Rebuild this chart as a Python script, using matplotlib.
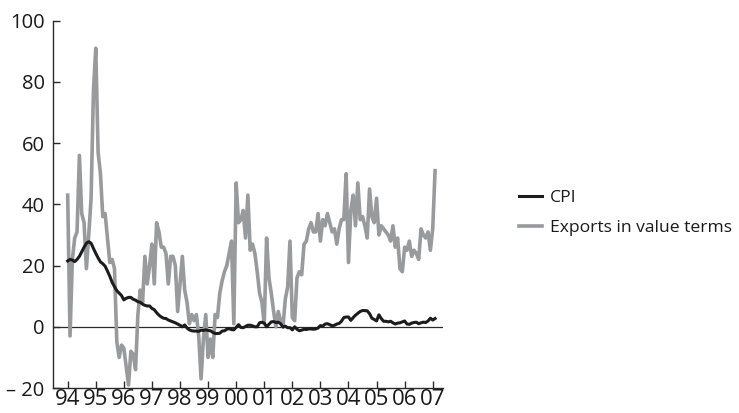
import numpy as np
import matplotlib
matplotlib.use("Agg")
import matplotlib.pyplot as plt
from matplotlib.ticker import FixedLocator, FixedFormatter

plt.rcParams['font.family'] = ['Open Sans', 'DejaVu Sans']

# Monthly year-on-year growth, %, from January 1994 to February 2007
cpi = [
    # 1994
    21.5, 22.0, 21.8, 21.3, 22.0, 23.0, 24.5, 26.0, 27.3, 27.8, 27.3, 25.6,
    # 1995
    24.0, 22.5, 21.2, 20.6, 19.8, 18.2, 16.5, 14.5, 13.1, 11.8, 11.0, 10.2,
    # 1996
    8.8, 9.3, 9.6, 9.6, 9.0, 8.7, 8.2, 8.0, 7.4, 7.0, 6.8, 6.8,
    # 1997
    6.0, 5.6, 4.6, 3.8, 3.2, 2.8, 2.7, 2.2, 1.9, 1.6, 1.3, 0.9,
    # 1998
    0.5, 0.0, 0.6, -0.4, -1.0, -1.3, -1.4, -1.4, -1.5, -1.1, -1.2, -1.0,
    # 1999
    -1.2, -1.3, -1.8, -2.2, -2.2, -2.1, -1.4, -1.3, -0.8, -0.6, -0.9, -1.0,
    # 2000
    -0.2, 0.7, -0.2, -0.3, 0.1, 0.5, 0.5, 0.3, 0.0, 0.0, 1.3, 1.5,
    # 2001
    1.2, 0.0, 0.8, 1.6, 1.7, 1.4, 1.5, 1.0, -0.1, 0.2, -0.3, -0.3,
    # 2002
    -1.0, 0.0, -0.8, -1.3, -1.1, -0.8, -0.9, -0.7, -0.7, -0.8, -0.7, -0.4,
    # 2003
    0.4, 0.2, 0.9, 1.0, 0.7, 0.3, 0.5, 0.9, 1.1, 1.8, 3.0, 3.2,
    # 2004
    3.2, 2.1, 3.0, 3.8, 4.4, 5.0, 5.3, 5.3, 5.2, 4.3, 2.8, 2.4,
    # 2005
    1.9, 3.9, 2.7, 1.8, 1.8, 1.6, 1.8, 1.3, 0.9, 1.2, 1.3, 1.6,
    # 2006
    1.9, 0.9, 0.8, 1.2, 1.4, 1.5, 1.0, 1.3, 1.5, 1.4, 1.9, 2.8,
    # 2007
    2.2, 2.7,
]

exports = [
    # 1994
    43, -3, 22, 29, 31, 56, 37, 34, 19, 30, 42, 77,
    # 1995
    91, 57, 50, 36, 37, 29, 21, 22, 19, -5, -10, -6,
    # 1996
    -7, -13, -19, -8, -9, -14, 4, 12, 8, 23, 14, 20,
    # 1997
    27, 14, 34, 31, 26, 26, 24, 14, 23, 23, 20, 5,
    # 1998
    14, 23, 12, 8, 1, 4, 2, 4, -3, -17, -4, 4,
    # 1999
    -10, -4, -10, 4, 3, 11, 15, 18, 20, 24, 28, 1,
    # 2000
    47, 34, 35, 38, 29, 43, 25, 27, 24, 18, 11, 8,
    # 2001
    1, 29, 16, 11, 5, 0, 5, 2, 0, 9, 13, 28,
    # 2002
    3, 2, 16, 18, 17, 27, 28, 32, 34, 31, 31, 37,
    # 2003
    28, 35, 33, 37, 34, 31, 32, 27, 32, 35, 35, 50,
    # 2004
    21, 38, 43, 33, 47, 35, 36, 33, 29, 45, 36, 34,
    # 2005
    42, 30, 33, 32, 31, 30, 28, 33, 26, 29, 19, 18,
    # 2006
    26, 25, 28, 23, 25, 24, 22, 32, 30, 29, 31, 25,
    # 2007
    32, 51,
]

year_labels = ['94', '95', '96', '97', '98', '99', '00', '01', '02', '03',
               '04', '05', '06', '07']
y_ticks = [-20, 0, 20, 40, 60, 80, 100]
y_labels = ['– 20', '0', '20', '40', '60', '80', '100']

months = 1994 + np.arange(len(cpi)) / 12.0

fig = plt.figure(figsize=(7.39, 4.13), dpi=100)
ax = fig.add_axes([53 / 739, 25 / 413, 390 / 739, 367.3 / 413])

ax.plot(months, exports, color='#999a9c', lw=2.6,
        label='Exports in value terms', zorder=2)
ax.plot(months, cpi, color='#1c1c1c', lw=2.2, label='CPI', zorder=3)
ax.axhline(0, color='#2a2a2a', lw=0.9, zorder=1)

ax.set_xlim(1993.477, 2007.366)
ax.set_ylim(-20, 100)

ax.xaxis.set_major_locator(FixedLocator(1994 + np.arange(len(year_labels))))
ax.xaxis.set_major_formatter(FixedFormatter(year_labels))
ax.yaxis.set_major_locator(FixedLocator(y_ticks))
ax.yaxis.set_major_formatter(FixedFormatter(y_labels))

for side in ('top', 'right'):
    ax.spines[side].set_visible(False)
for side in ('left', 'bottom'):
    ax.spines[side].set_color('#2a2a2a')
    ax.spines[side].set_linewidth(1.0)

ax.tick_params(axis='x', direction='in', length=5.3, width=1.0,
               color='#2a2a2a', labelsize=16, pad=1, labelcolor='#1a1a1a')
ax.tick_params(axis='y', direction='in', length=5.3, width=1.0,
               color='#2a2a2a', labelsize=14.5, pad=6, labelcolor='#1a1a1a')

handles, labels = ax.get_legend_handles_labels()
leg = fig.legend(handles[::-1], labels[::-1], loc='upper left',
                 bbox_to_anchor=(503 / 739, 1 - 174 / 413), frameon=False,
                 fontsize=12.6, handlelength=1.3, handletextpad=0.5,
                 labelspacing=0.8, labelcolor='#1a1a1a')

fig.savefig('out.png', dpi=100)
